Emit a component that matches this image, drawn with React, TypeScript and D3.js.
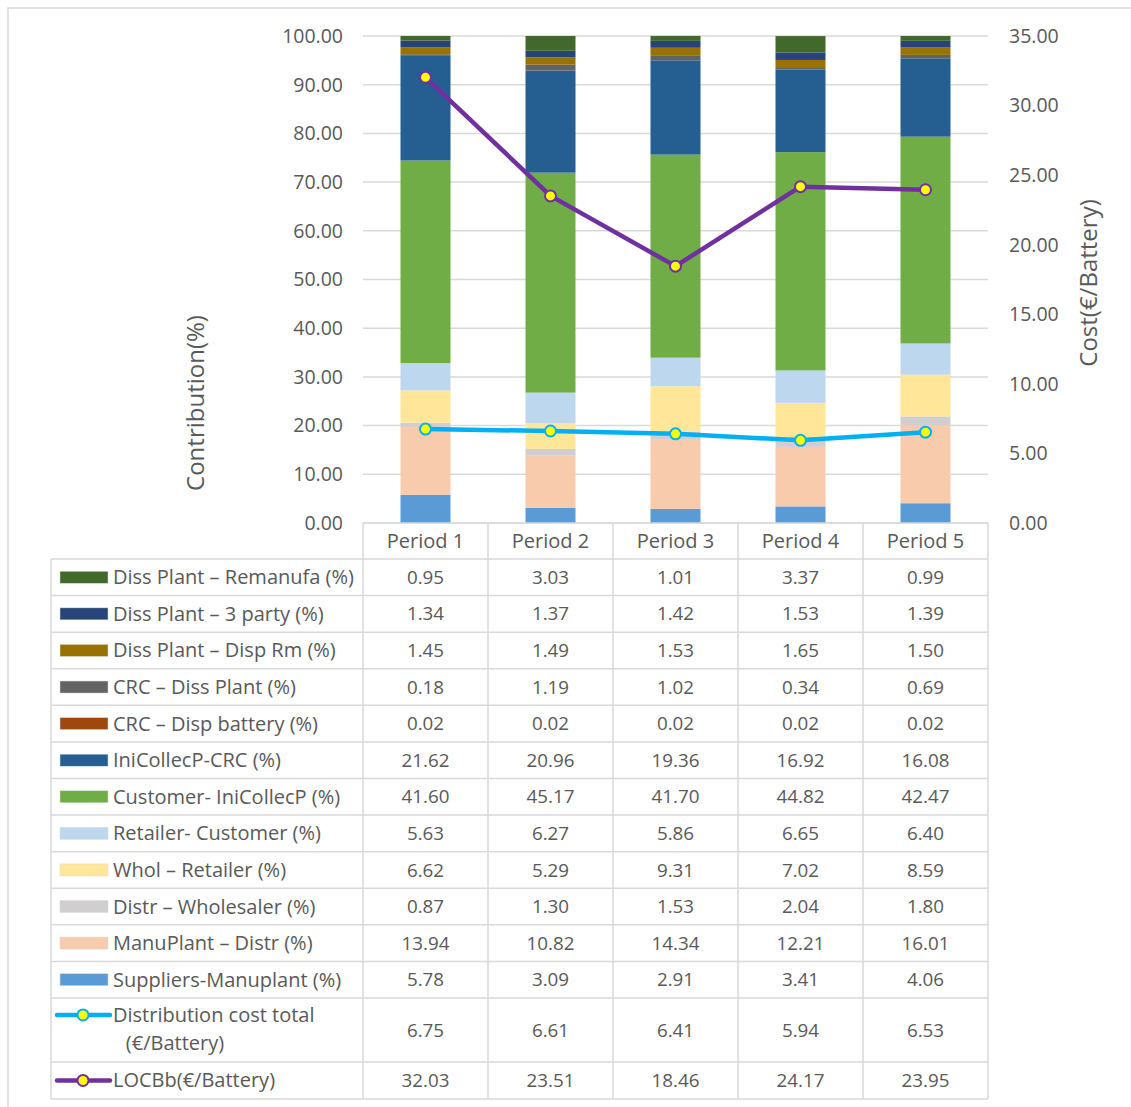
import * as d3 from 'd3';

const periods = ['Period 1', 'Period 2', 'Period 3', 'Period 4', 'Period 5'];

// stack order, bottom to top
const seriesNames = [
  'Suppliers-Manuplant (%)',
  'ManuPlant – Distr (%)',
  'Distr – Wholesaler (%)',
  'Whol – Retailer (%)',
  'Retailer- Customer (%)',
  'Customer- IniCollecP (%)',
  'IniCollecP-CRC (%)',
  'CRC – Disp battery (%)',
  'CRC – Diss Plant (%)',
  'Diss Plant – Disp Rm (%)',
  'Diss Plant – 3 party (%)',
  'Diss Plant – Remanufa (%)',
];

const seriesColors = [
  '#5b9bd5', '#f8cbad', '#d0cece', '#ffe699', '#bdd7ee', '#70ad47',
  '#255e91', '#9e480e', '#636363', '#997300', '#264478', '#43682b',
];

const seriesValues = [
  [5.78, 3.09, 2.91, 3.41, 4.06],
  [13.94, 10.82, 14.34, 12.21, 16.01],
  [0.87, 1.30, 1.53, 2.04, 1.80],
  [6.62, 5.29, 9.31, 7.02, 8.59],
  [5.63, 6.27, 5.86, 6.65, 6.40],
  [41.60, 45.17, 41.70, 44.82, 42.47],
  [21.62, 20.96, 19.36, 16.92, 16.08],
  [0.02, 0.02, 0.02, 0.02, 0.02],
  [0.18, 1.19, 1.02, 0.34, 0.69],
  [1.45, 1.49, 1.53, 1.65, 1.50],
  [1.34, 1.37, 1.42, 1.53, 1.39],
  [0.95, 3.03, 1.01, 3.37, 0.99],
];

const distCost = [6.75, 6.61, 6.41, 5.94, 6.53];
const locbb = [32.03, 23.51, 18.46, 24.17, 23.95];

const leftTicks = [0, 10, 20, 30, 40, 50, 60, 70, 80, 90, 100];
const rightTicks = [0, 5, 10, 15, 20, 25, 30, 35];

const font = '"Open Sans", "Noto Sans", sans-serif';
const textColor = '#595959';
const gridColor = '#d9d9d9';

export default function App() {
  const plotLeft = 363;
  const plotRight = 988;
  const plotTop = 36;
  const plotBottom = 523;
  const tableLeft = 51;
  const rowH = 36.58;
  const headerBottom = 559;

  const x = d3.scaleBand<string>().domain(periods).range([plotLeft, plotRight]).paddingInner(0).paddingOuter(0);
  const yL = d3.scaleLinear().domain([0, 100]).range([plotBottom, plotTop]);
  const yR = d3.scaleLinear().domain([0, 35]).range([plotBottom, plotTop]);
  const barW = 50;
  const cx = (p: string) => (x(p) ?? 0) + x.bandwidth() / 2;

  const stackData = periods.map((p, i) => {
    const row: Record<string, number | string> = { period: p };
    seriesNames.forEach((s, j) => (row[s] = seriesValues[j][i]));
    return row;
  });
  const stacked = d3.stack<Record<string, number | string>>().keys(seriesNames)(stackData);

  const line = d3.line<number>().x((_, i) => cx(periods[i])).y((d) => yR(d));

  // table rows: legend order top to bottom
  const legendOrder = seriesNames.map((_, i) => seriesNames.length - 1 - i);
  const rows: { label: string[]; values: number[]; color: string; kind: 'bar' | 'line'; top: number; h: number }[] = [];
  legendOrder.forEach((j, r) => {
    rows.push({ label: [seriesNames[j]], values: seriesValues[j], color: seriesColors[j], kind: 'bar', top: headerBottom + r * rowH, h: rowH });
  });
  const afterBars = headerBottom + seriesNames.length * rowH;
  rows.push({ label: ['Distribution cost total', '(€/Battery)'], values: distCost, color: '#00b0f0', kind: 'line', top: afterBars, h: 64 });
  rows.push({ label: ['LOCBb(€/Battery)'], values: locbb, color: '#7030a0', kind: 'line', top: afterBars + 64, h: 37 });
  const tableBottom = afterBars + 64 + 37;

  const fsNum = 18.8;
  const fsLab = 20;

  return (
    <div style={{ position: 'absolute', left: 0, top: 0 }}>
      <svg width={1131} height={1107} style={{ display: 'block', fontFamily: font }}>
        <rect x={0} y={0} width={1131} height={1107} fill="#fff" />
        <rect x={8} y={8} width={1140} height={1120} fill="none" stroke={gridColor} strokeWidth={1.5} />

        {/* gridlines */}
        {leftTicks.map((t) => (
          <line key={t} x1={plotLeft} x2={plotRight} y1={yL(t)} y2={yL(t)} stroke={gridColor} strokeWidth={1.5} />
        ))}

        {/* bars */}
        {stacked.map((layer, j) => (
          <g key={layer.key} fill={seriesColors[j]}>
            {layer.map((d, i) => (
              <rect key={i} x={cx(periods[i]) - barW / 2} width={barW} y={yL(d[1])} height={Math.max(0, yL(d[0]) - yL(d[1]))} />
            ))}
          </g>
        ))}

        {/* lines */}
        {[{ v: distCost, c: '#00b0f0' }, { v: locbb, c: '#7030a0' }].map((s) => (
          <g key={s.c}>
            <path d={line(s.v) ?? ''} fill="none" stroke={s.c} strokeWidth={4.5} strokeLinejoin="round" />
            {s.v.map((d, i) => (
              <circle key={i} cx={cx(periods[i])} cy={yR(d)} r={5.5} fill="#ffff00" stroke={s.c} strokeWidth={2} />
            ))}
          </g>
        ))}

        {/* left axis labels */}
        {leftTicks.map((t) => (
          <text key={t} x={343} y={yL(t)} dy="0.35em" textAnchor="end" fontSize={19.5} fill={textColor}>
            {t.toFixed(2)}
          </text>
        ))}
        {/* right axis labels */}
        {rightTicks.map((t) => (
          <text key={t} x={1009} y={yR(t)} dy="0.35em" textAnchor="start" fontSize={19.5} fill={textColor}>
            {t.toFixed(2)}
          </text>
        ))}

        <text transform="translate(204,403) rotate(-90)" textAnchor="middle" fontSize={24} fill={textColor}>
          Contribution(%)
        </text>
        <text transform="translate(1097,283) rotate(-90)" textAnchor="middle" fontSize={24} fill={textColor}>
          Cost(€/Battery)
        </text>

        {/* data table */}
        <g stroke={gridColor} strokeWidth={1.5} fill="none">
          <line x1={plotLeft} x2={plotRight} y1={plotBottom} y2={plotBottom} />
          {rows.map((r, k) => (
            <line key={k} x1={tableLeft} x2={plotRight} y1={r.top} y2={r.top} />
          ))}
          <line x1={tableLeft} x2={plotRight} y1={tableBottom} y2={tableBottom} />
          <line x1={tableLeft} x2={tableLeft} y1={headerBottom} y2={tableBottom} />
          {periods.map((p) => (
            <line key={p} x1={x(p)} x2={x(p)} y1={plotBottom} y2={tableBottom} />
          ))}
          <line x1={plotRight} x2={plotRight} y1={plotBottom} y2={tableBottom} />
        </g>

        {periods.map((p) => (
          <text key={p} x={cx(p)} y={(plotBottom + headerBottom) / 2} dy="0.35em" textAnchor="middle" fontSize={fsLab} fill={textColor}>
            {p}
          </text>
        ))}

        {rows.map((r, k) => {
          const my = r.top + r.h / 2;
          const ly = r.label.length > 1 ? r.top + 17 : my;
          return (
            <g key={k}>
              {r.kind === 'bar' ? (
                <rect x={60} y={my - 6} width={48} height={12} fill={r.color} stroke="#d9d9d9" strokeWidth={0.5} />
              ) : (
                <g>
                  <line x1={57} x2={110} y1={ly} y2={ly} stroke={r.color} strokeWidth={4.5} strokeLinecap="round" />
                  <circle cx={83} cy={ly} r={5.5} fill="#ffff00" stroke={r.color} strokeWidth={2} />
                </g>
              )}
              {r.label.length === 1 ? (
                <text x={113} y={my} dy="0.35em" fontSize={fsLab} fill={textColor}>
                  {r.label[0]}
                </text>
              ) : (
                <>
                  <text x={113} y={r.top + 17} dy="0.35em" fontSize={fsLab} fill={textColor}>
                    {r.label[0]}
                  </text>
                  <text x={175} y={r.top + 45} dy="0.35em" textAnchor="middle" fontSize={fsLab} fill={textColor}>
                    {r.label[1]}
                  </text>
                </>
              )}
              {r.values.map((v, i) => (
                <text key={i} x={cx(periods[i])} y={my} dy="0.35em" textAnchor="middle" fontSize={fsNum} fill={textColor}>
                  {v.toFixed(2)}
                </text>
              ))}
            </g>
          );
        })}
      </svg>
    </div>
  );
}
